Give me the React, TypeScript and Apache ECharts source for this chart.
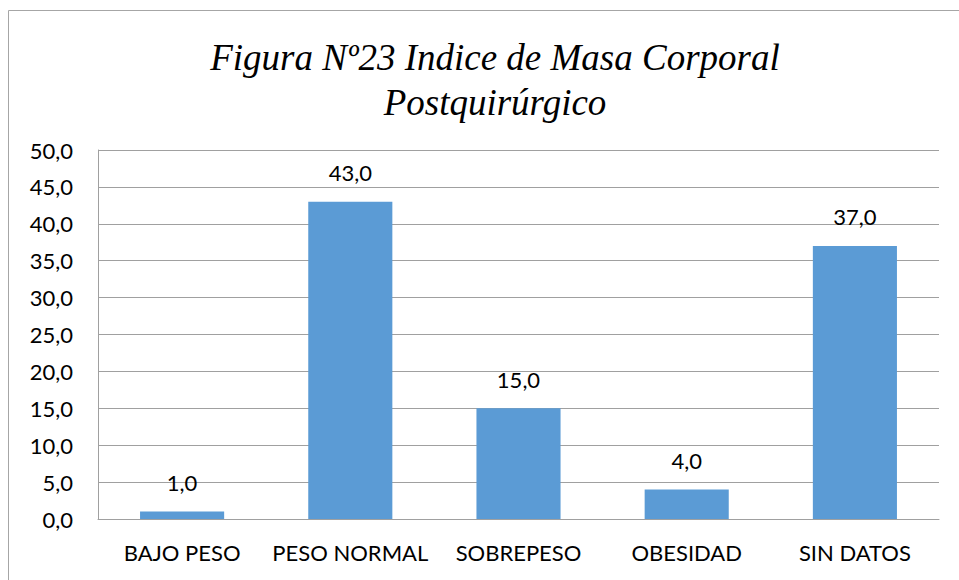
import React, { useEffect, useRef } from "react";
import * as echarts from "echarts";

const titleLines = ["Figura Nº23 Indice de Masa Corporal", "Postquirúrgico"];
const categories = ["BAJO PESO", "PESO NORMAL", "SOBREPESO", "OBESIDAD", "SIN DATOS"];
const values = [1.0, 43.0, 15.0, 4.0, 37.0];

const fmt = (v: number) => v.toFixed(1).replace(".", ",");
const FONT = "Lato";

export default function App() {
  const ref = useRef<HTMLDivElement>(null);
  useEffect(() => {
    document.body.style.margin = "0";
    const chart = echarts.init(ref.current!, null, { renderer: "svg" });
    chart.setOption({
      animation: false,
      backgroundColor: "#ffffff",
      title: {
        text: titleLines.join("\n"),
        left: 490,
        textAlign: "center",
        top: 30,
        textStyle: {
          fontFamily: "Liberation Serif",
          fontStyle: "italic",
          fontWeight: "normal",
          fontSize: 37,
          lineHeight: 45,
          color: "#000000",
        },
      },
      graphic: [
        {
          type: "rect",
          shape: { x: 8.5, y: 10.5, width: 1000, height: 1000 },
          style: { fill: "none", stroke: "#a6a6a6", lineWidth: 1 },
          silent: true,
        },
      ],
      grid: { left: 98, right: 20, top: 150, bottom: 61, containLabel: false },
      xAxis: {
        type: "category",
        data: categories,
        axisLine: { show: true, lineStyle: { color: "#a0a0a0", width: 1 } },
        axisTick: { show: false },
        axisLabel: {
          color: "#000000",
          fontFamily: FONT,
          fontSize: 22,
          margin: 22,
          interval: 0,
          hideOverlap: false,
        },
      },
      yAxis: {
        type: "value",
        min: 0,
        max: 50,
        interval: 5,
        axisLine: { show: true, lineStyle: { color: "#a0a0a0", width: 1 } },
        axisTick: { show: false },
        splitLine: { show: true, lineStyle: { color: "#a0a0a0", width: 1 } },
        axisLabel: {
          color: "#000000",
          fontFamily: FONT,
          fontSize: 22,
          margin: 25,
          formatter: (v: number) => fmt(v),
        },
      },
      series: [
        {
          type: "bar",
          data: values,
          barCategoryGap: "50%",
          itemStyle: { color: "#5b9bd5" },
          label: {
            show: true,
            position: "top",
            distance: 18,
            color: "#000000",
            fontFamily: FONT,
            fontSize: 22,
            formatter: (p: any) => fmt(p.value),
          },
        },
      ],
    });
    return () => chart.dispose();
  }, []);
  return (
    <div
      ref={ref}
      style={{ position: "fixed", left: 0, top: 0, width: 959, height: 580 }}
    />
  );
}
